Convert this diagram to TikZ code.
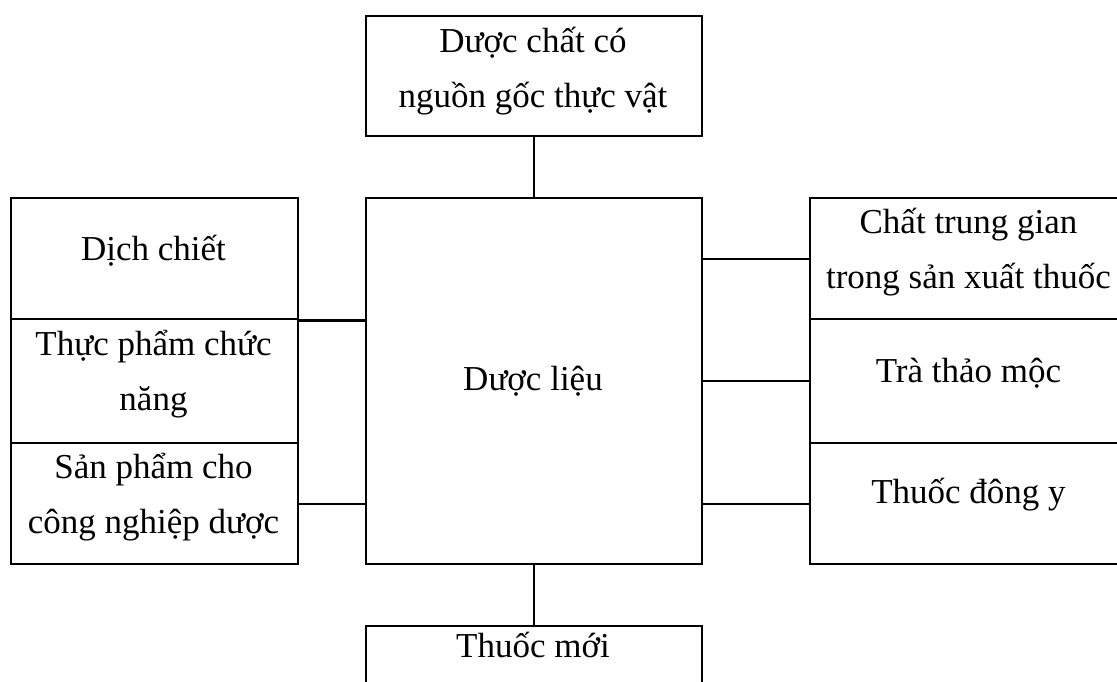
\documentclass[tikz,border=0pt]{standalone}
\usepackage{fontspec}
\setmainfont{Liberation Serif}
\begin{document}
\begin{tikzpicture}[x=1pt,y=-1pt,
  boxstyle/.style={draw=black,line width=2.4pt,rectangle,inner sep=0pt,anchor=north west},
  lbl/.style={anchor=base,align=center,inner sep=0pt,font=\fontsize{35}{55}\selectfont},
  conn/.style={draw=black,line width=2.4pt}]
\useasboundingbox (0,0) rectangle (1117,681);
\clip (0,0) rectangle (1117,681);
% boxes
\node[boxstyle,minimum width=336pt,minimum height=120pt] (top) at (365,15) {};
\node[boxstyle,minimum width=336pt,minimum height=366pt] (center) at (365,197) {};
\node[boxstyle,minimum width=336pt,minimum height=80pt] (bottom) at (365,625) {};
\node[boxstyle,minimum width=287pt,minimum height=121pt] (lb1) at (10,197) {};
\node[boxstyle,minimum width=287pt,minimum height=124pt] (lb2) at (10,318) {};
\node[boxstyle,minimum width=287pt,minimum height=121pt] (lb3) at (10,442) {};
\node[boxstyle,minimum width=319pt,minimum height=121pt] (rb1) at (809,197) {};
\node[boxstyle,minimum width=319pt,minimum height=124pt] (rb2) at (809,318) {};
\node[boxstyle,minimum width=319pt,minimum height=121pt] (rb3) at (809,442) {};
% texts (anchor base = baseline of last line)
\node[lbl] (ttop) at (533,107) {Dược chất có\\nguồn gốc thực vật};
\node[lbl] (tcenter) at (533,390) {Dược liệu};
\node[lbl] (tbottom) at (533,657) {Thuốc mới};
\node[lbl] (tl1) at (153.5,260) {Dịch chiết};
\node[lbl] (tl2) at (153.5,410) {Thực phẩm chức\\năng};
\node[lbl] (tl3) at (153.5,533) {Sản phẩm cho\\công nghiệp dược};
\node[lbl] (tr1) at (968.5,288) {Chất trung gian\\trong sản xuất thuốc};
\node[lbl] (tr2) at (968.5,382) {Trà thảo mộc};
\node[lbl] (tr3) at (968.5,503) {Thuốc đông y};
% connectors
\draw[conn] (top.south) -- (center.north);
\draw[conn] (center.south) -- (bottom.north);
\draw[conn] (lb1.south east) -- (center.west |- lb1.south east);
\draw[conn] (lb3.east) -- (center.west |- lb3.east);
\draw[conn] (center.east |- rb1.west) -- (rb1.west);
\draw[conn] (center.east |- rb2.west) -- (rb2.west);
\draw[conn] (center.east |- rb3.west) -- (rb3.west);
\end{tikzpicture}
\end{document}
